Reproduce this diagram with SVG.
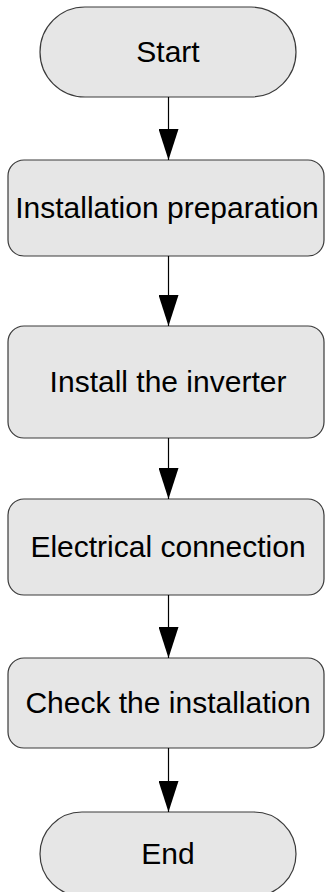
<svg xmlns="http://www.w3.org/2000/svg" width="325" height="892" viewBox="0 0 325 892">
<style>
.node{fill:#e6e6e6;stroke:#3a3a3a;stroke-width:1.2}
.lbl{font-family:"Liberation Sans",Arial,sans-serif;font-size:30px;fill:#000;text-anchor:middle}
.edge{stroke:#000;stroke-width:1.2;fill:none}
</style>
<defs>
<marker id="ah" markerUnits="userSpaceOnUse" markerWidth="31" markerHeight="20" viewBox="0 0 31 20" refX="31" refY="10" orient="auto">
<path d="M0,0 L31,10 L0,20 Z" fill="#000"/>
</marker>
</defs>
<g id="start"><rect class="node" x="40" y="7" width="256" height="90" rx="45" ry="45"/><text class="lbl" x="168" y="62">Start</text></g>
<g id="prep"><rect class="node" x="8" y="160" width="316" height="96" rx="16" ry="16"/><text class="lbl" x="167" y="218">Installation preparation</text></g>
<g id="install"><rect class="node" x="8" y="326" width="316" height="112" rx="16" ry="16"/><text class="lbl" x="168" y="392">Install the inverter</text></g>
<g id="elec"><rect class="node" x="8" y="499" width="316" height="96" rx="16" ry="16"/><text class="lbl" x="168" y="557">Electrical connection</text></g>
<g id="check"><rect class="node" x="8" y="658" width="316" height="90" rx="16" ry="16"/><text class="lbl" x="168" y="713">Check the installation</text></g>
<g id="end"><rect class="node" x="40" y="812" width="256" height="84" rx="42" ry="42"/><text class="lbl" x="168" y="864">End</text></g>
<g id="connectors">
<path class="edge" d="M168.5,97 V160" marker-end="url(#ah)"/>
<path class="edge" d="M168.5,256 V326" marker-end="url(#ah)"/>
<path class="edge" d="M168.5,438 V499" marker-end="url(#ah)"/>
<path class="edge" d="M168.5,595 V658" marker-end="url(#ah)"/>
<path class="edge" d="M168.5,748 V812" marker-end="url(#ah)"/>
</g>
</svg>
